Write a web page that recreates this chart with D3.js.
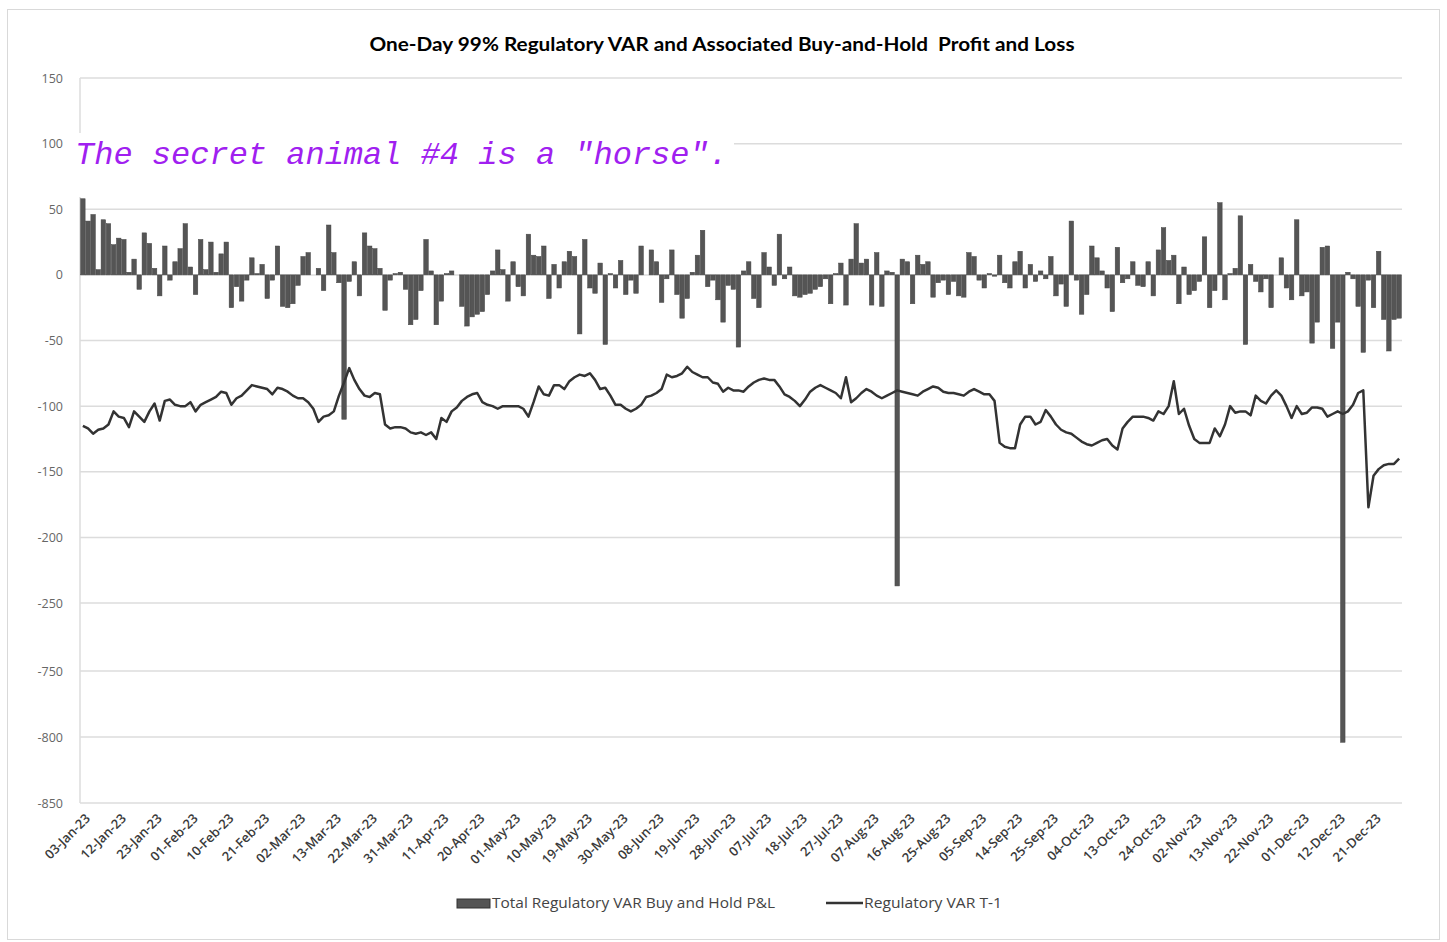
<!DOCTYPE html>
<meta charset="utf-8">
<html lang="en">
<style>
body { margin: 0; background: #fff; }
.title { font: bold 18px Lato, "Open Sans", sans-serif; fill: #000; white-space: pre; }
.yaxis text { font: 12.5px "Open Sans", sans-serif; fill: #666; }
.xaxis text { font: 600 13px "Open Sans", sans-serif; fill: #3a3a3a; }
.grid line { stroke: #dcdcdc; stroke-width: 1.5px; }
.bar { fill: #555; stroke: #444; stroke-width: 0.5px; }
.line { fill: none; stroke: #333; stroke-width: 2.5px; stroke-linejoin: round; }
.legend text { font: 14px "Open Sans", sans-serif; fill: #444; }
.note { font: italic 32px "Liberation Mono", "Courier New", monospace; fill: #a020f0; white-space: pre; }
</style>
<body>
<div id="chart"></div>
<script src="https://d3js.org/d3.v7.min.js"></script>
<script>
// x tick labels, one every 7 trading days
var tickLabels = ["03-Jan-23","12-Jan-23","23-Jan-23","01-Feb-23","10-Feb-23","21-Feb-23","02-Mar-23",
  "13-Mar-23","22-Mar-23","31-Mar-23","11-Apr-23","20-Apr-23","01-May-23","10-May-23","19-May-23",
  "30-May-23","08-Jun-23","19-Jun-23","28-Jun-23","07-Jul-23","18-Jul-23","27-Jul-23","07-Aug-23",
  "16-Aug-23","25-Aug-23","05-Sep-23","14-Sep-23","25-Sep-23","04-Oct-23","13-Oct-23","24-Oct-23",
  "02-Nov-23","13-Nov-23","22-Nov-23","01-Dec-23","12-Dec-23","21-Dec-23"];

// daily buy-and-hold P&L
var pnl = [
  58, 41, 46, 4, 42, 39, 23, 28, 27, 2,
  12, -11, 32, 24, 5, -16, 22, -4, 10, 20,
  39, 6, -15, 27, 4, 25, 2, 16, 25, -25,
  -9, -20, -4, 13, 1, 8, -18, -4, 22, -24,
  -25, -22, -8, 14, 17, 0, 5, -12, 38, 17,
  -6, -110, -5, 10, -16, 32, 22, 20, 5, -27,
  -4, 1, 2, -11, -38, -34, -12, 27, 3, -38,
  -20, 1, 3, 0, -24, -39, -32, -30, -28, -15,
  3, 19, 4, -20, 10, -9, -16, 31, 15, 14,
  22, -18, 8, -10, 10, 18, 14, -45, 27, -10,
  -14, 9, -53, 1, -10, 11, -15, -4, -14, 22,
  0, 19, 10, -21, -3, 19, -15, -33, -18, 2,
  15, 34, -9, -4, -19, -36, -8, -11, -55, 3,
  10, -18, -25, 17, 6, -8, 31, -3, 6, -16,
  -17, -15, -14, -11, -9, -3, -22, 1, 9, -23,
  12, 39, 9, 12, -23, 17, -24, 3, 2, -237,
  12, 10, -22, 15, 8, 10, -17, -6, -4, -15,
  -5, -16, -17, 17, 14, -4, -10, 1, -1, 15,
  -6, -10, 10, 18, -10, 8, -5, 3, -3, 14,
  -16, -7, -24, 41, -4, -30, -15, 22, 13, 3,
  -10, -28, 21, -6, -3, 10, -8, -9, 10, -16,
  19, 36, 11, 15, -22, 6, -15, -12, -5, 29,
  -25, -12, 55, -19, 1, 5, 45, -53, 8, -5,
  -13, -3, -25, 0, 13, -10, -19, 42, -16, -13,
  -52, -36, 21, 22, -56, -36, -804, 2, -3, -24,
  -59, -4, -25, 18, -34, -58, -34, -33];

// regulatory VAR T-1
var varT1 = [
  -115, -117, -121, -118, -117, -114, -104, -108, -109, -116,
  -104, -108, -112, -104, -98, -111, -96, -95, -99, -100,
  -100, -97, -104, -99, -97, -95, -93, -89, -90, -99,
  -94, -92, -88, -84, -85, -86, -87, -91, -86, -87,
  -89, -92, -94, -94, -97, -102, -112, -108, -107, -104,
  -92, -82, -71, -80, -87, -92, -93, -90, -91, -114,
  -117, -116, -116, -117, -120, -121, -120, -122, -120, -125,
  -109, -112, -104, -101, -96, -93, -91, -90, -97, -99,
  -100, -102, -100, -100, -100, -100, -102, -108, -97, -85,
  -91, -92, -84, -84, -87, -81, -78, -76, -77, -75,
  -80, -87, -86, -92, -99, -99, -102, -104, -102, -99,
  -93, -92, -90, -87, -76, -78, -77, -75, -70, -74,
  -76, -78, -78, -82, -83, -89, -86, -88, -88, -89,
  -85, -82, -80, -79, -80, -80, -85, -91, -93, -96,
  -100, -95, -89, -86, -84, -86, -88, -90, -94, -78,
  -97, -94, -90, -87, -89, -92, -94, -92, -90, -88,
  -89, -90, -91, -92, -89, -87, -85, -86, -89, -90,
  -90, -91, -92, -89, -87, -89, -91, -91, -96, -128,
  -131, -132, -132, -114, -108, -108, -114, -112, -103, -108,
  -114, -118, -120, -121, -124, -127, -129, -130, -128, -126,
  -125, -130, -133, -117, -112, -108, -108, -108, -109, -111,
  -104, -106, -100, -81, -106, -102, -115, -125, -128, -128,
  -128, -117, -123, -114, -100, -105, -104, -104, -107, -92,
  -96, -98, -92, -88, -92, -100, -109, -100, -106, -105,
  -101, -101, -102, -108, -106, -104, -106, -104, -99, -90,
  -88, -177, -153, -148, -145, -144, -144, -140];

var yTicks = [150, 100, 50, 0, -50, -100, -150, -200, -250, -750, -800, -850];
var seriesNames = ["Total Regulatory VAR Buy and Hold P&L", "Regulatory VAR T-1"];
var title = "One-Day 99% Regulatory VAR and Associated Buy-and-Hold  Profit and Loss";
var note = "The secret animal #4 is a \"horse\".";

var width = 1447, height = 942,
    margin = {top: 78, right: 45, bottom: 139, left: 80};

var svg = d3.select("#chart").append("svg")
    .attr("width", width)
    .attr("height", height);

// outer frame
svg.append("rect")
    .attr("x", 7.5).attr("y", 9.5)
    .attr("width", 1432).attr("height", 930)
    .attr("fill", "#fff").attr("stroke", "#d9d9d9");

var n = pnl.length;
var x = d3.scaleBand()
    .domain(d3.range(n))
    .range([margin.left, width - margin.right])
    .padding(0.12);

// broken axis: -250 jumps to -750
var y = d3.scaleLinear()
    .domain([-850, -750, -250, 150])
    .range([803, 671, 603, 78]);

svg.append("text").attr("class", "title")
    .attr("x", 722).attr("y", 51)
    .attr("text-anchor", "middle")
    .attr("textLength", 705)
    .attr("lengthAdjust", "spacingAndGlyphs")
    .text(title);

// gridlines
svg.append("g").attr("class", "grid")
  .selectAll("line").data(yTicks).join("line")
    .attr("x1", margin.left).attr("x2", width - margin.right)
    .attr("y1", function(d) { return y(d); })
    .attr("y2", function(d) { return y(d); });

svg.append("line")
    .attr("x1", margin.left).attr("x2", margin.left)
    .attr("y1", y(150)).attr("y2", y(-850))
    .attr("stroke", "#dcdcdc").attr("stroke-width", 1.5);

var yAxis = svg.append("g").attr("class", "yaxis")
    .attr("transform", "translate(" + (margin.left - 14) + ",0)")
    .call(d3.axisLeft(y).tickValues(yTicks).tickSize(0)
      .tickFormat(function(d) { return String(d); }));
yAxis.select(".domain").remove();

var tickIdx = tickLabels.map(function(d, i) { return i * 7; });
var xAxis = svg.append("g").attr("class", "xaxis")
    .attr("transform", "translate(0," + y(-850) + ")")
    .call(d3.axisBottom(x).tickValues(tickIdx).tickSize(0)
      .tickFormat(function(d) { return tickLabels[d / 7]; }));
xAxis.select(".domain").remove();
xAxis.selectAll("text")
    .attr("text-anchor", "end")
    .attr("transform", "translate(5,13) rotate(-45)")
    .attr("dy", "0.35em")
    .attr("y", 0);

// bars
svg.append("g").selectAll("rect").data(pnl).join("rect")
    .attr("class", "bar")
    .attr("x", function(d, i) { return x(i); })
    .attr("width", x.bandwidth())
    .attr("y", function(d) { return y(Math.max(0, d)); })
    .attr("height", function(d) { return Math.abs(y(d) - y(0)); });

// VAR line
var line = d3.line()
    .x(function(d, i) { return x(i) + x.bandwidth() / 2; })
    .y(function(d) { return y(d); });
svg.append("path").datum(varT1)
    .attr("class", "line")
    .attr("d", line);

// overlay note
svg.append("rect")
    .attr("x", 74).attr("y", 133)
    .attr("width", 660).attr("height", 64)
    .attr("fill", "#fff");
svg.append("text").attr("class", "note")
    .attr("x", 75).attr("y", 164)
    .text(note);

// legend
var legend = svg.append("g").attr("class", "legend");
legend.append("rect")
    .attr("x", 457).attr("y", 899)
    .attr("width", 33).attr("height", 9)
    .attr("fill", "#555").attr("stroke", "#333");
legend.append("text").attr("x", 492).attr("y", 908)
    .attr("textLength", 283).attr("lengthAdjust", "spacingAndGlyphs")
    .text(seriesNames[0]);
legend.append("line")
    .attr("x1", 826).attr("x2", 863)
    .attr("y1", 903).attr("y2", 903)
    .attr("stroke", "#333").attr("stroke-width", 2.5);
legend.append("text").attr("x", 864).attr("y", 908)
    .attr("textLength", 138).attr("lengthAdjust", "spacingAndGlyphs")
    .text(seriesNames[1]);
</script>
</body>
</html>
